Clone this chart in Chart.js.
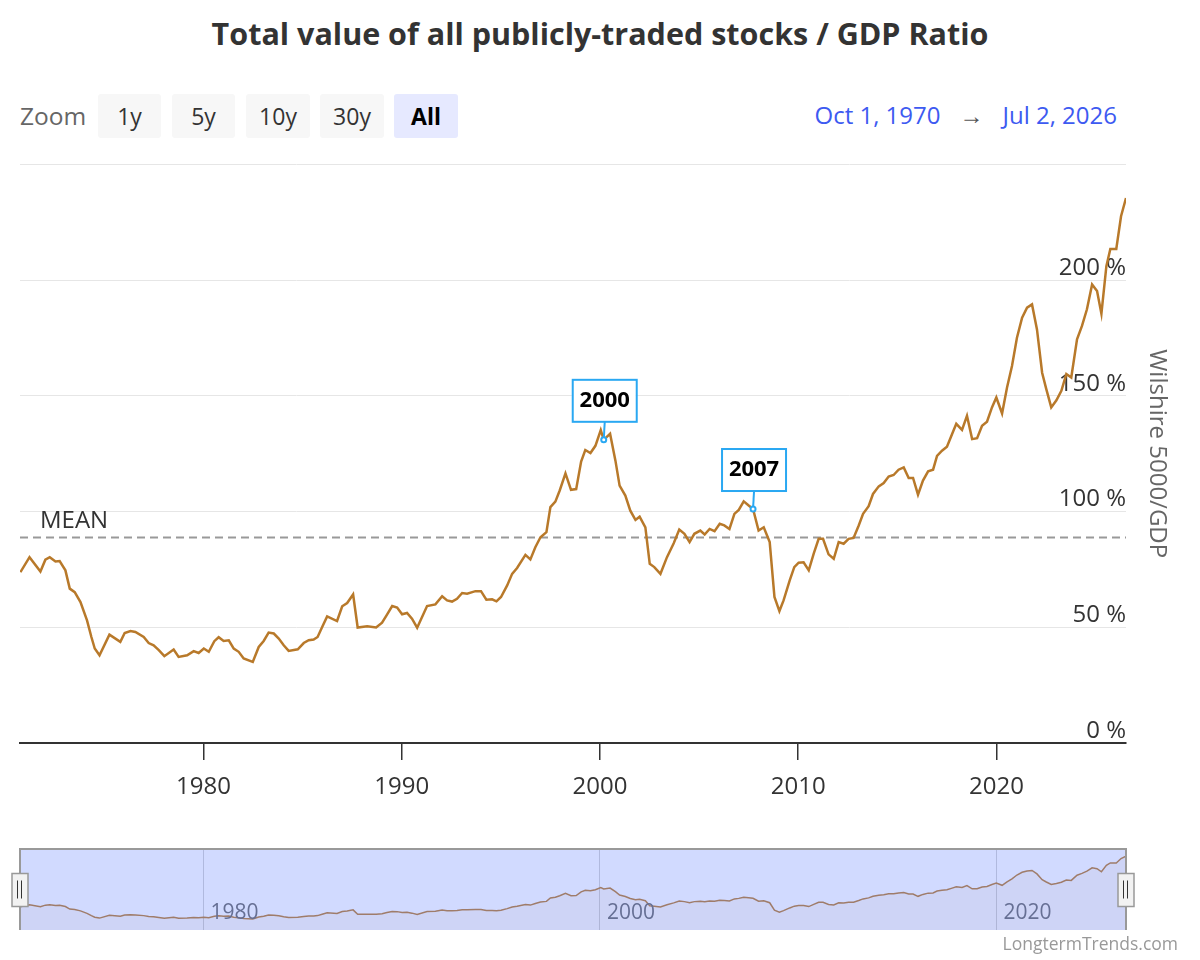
<!DOCTYPE html>
<html>
<head>
<meta charset="utf-8">
<script src="https://cdn.jsdelivr.net/npm/chart.js@4.4.1/dist/chart.umd.min.js"></script>
<style>
  body { margin: 0; width: 1200px; height: 960px; position: relative; background: #fff; overflow: hidden;
         font-family: 'Open Sans', sans-serif; }
  #title { position: absolute; top: 13px; left: 0; width: 1200px; text-align: center; line-height: 40px;
           font-size: 30.5px; font-weight: 700; color: #333; }
  .zlbl { position: absolute; left: 20px; top: 94px; line-height: 44px; font-size: 24.5px; color: #666; }
  .btn { position: absolute; top: 94px; height: 44px; line-height: 44px; text-align: center; font-size: 23px;
         color: #333; background: #f7f7f7; border-radius: 3px; }
  .btn.on { background: #e6e9ff; color: #000; font-weight: 700; }
  #range { position: absolute; right: 83px; top: 93px; line-height: 44px; font-size: 24px; color: #3d5af1; }
  #range .arr { color: #555; margin: 0 19px; }
  #credit { position: absolute; right: 22px; top: 931px; line-height: 24px; font-size: 17.5px; color: #999; }
  .box { position: absolute; left: 0; width: 1200px; }
</style>
</head>
<body>
<div id="title">Total value of all publicly-traded stocks / GDP Ratio</div>
<div class="zlbl">Zoom</div>
<div class="btn" style="left:98px;width:63px">1y</div>
<div class="btn" style="left:172px;width:63px">5y</div>
<div class="btn" style="left:246px;width:64px">10y</div>
<div class="btn" style="left:320px;width:64px">30y</div>
<div class="btn on" style="left:394px;width:64px">All</div>
<div id="range"><span>Oct 1, 1970</span><span class="arr">→</span><span>Jul 2, 2026</span></div>

<div class="box" style="top:150px;height:660px"><canvas id="main"></canvas></div>
<div class="box" style="top:840px;height:100px"><canvas id="nav"></canvas></div>
<div id="credit">LongtermTrends.com</div>

<script>
// Werte (Jahr als Dezimalzahl, Verhaeltnis in %)
const years = [1970.77,1971.23,1971.78,1972.03,1972.25,1972.54,1972.75,1973.04,1973.26,1973.51,
  1973.80,1974.13,1974.35,1974.52,1974.76,1975.26,1975.81,1976.03,1976.32,1976.57,
  1976.99,1977.24,1977.49,1977.75,1978.03,1978.50,1978.75,1979.18,1979.51,1979.76,
  1980.02,1980.27,1980.55,1980.77,1981.02,1981.28,1981.53,1981.78,1982.03,1982.49,
  1982.79,1983.04,1983.29,1983.55,1983.80,1984.05,1984.30,1984.76,1985.06,1985.31,
  1985.56,1985.76,1985.99,1986.24,1986.74,1987.00,1987.25,1987.55,1987.78,1988.26,
  1988.71,1989.01,1989.26,1989.52,1989.77,1990.02,1990.27,1990.52,1990.78,1991.28,
  1991.70,1992.04,1992.29,1992.54,1992.79,1993.05,1993.30,1993.72,1994.00,1994.27,
  1994.56,1994.78,1995.01,1995.32,1995.57,1995.82,1996.24,1996.49,1996.74,1997.00,
  1997.30,1997.50,1997.75,1997.97,1998.26,1998.54,1998.80,1999.05,1999.26,1999.52,
  1999.77,2000.04,2000.19,2000.51,2000.78,2000.99,2001.28,2001.53,2001.79,2002.00,
  2002.29,2002.51,2002.74,2003.05,2003.38,2003.72,2004.00,2004.26,2004.52,2004.76,
  2005.06,2005.28,2005.53,2005.78,2006.04,2006.27,2006.53,2006.78,2007.00,2007.25,
  2007.50,2007.72,2008.00,2008.26,2008.56,2008.80,2009.05,2009.26,2009.57,2009.80,
  2010.02,2010.27,2010.53,2010.78,2011.03,2011.25,2011.53,2011.79,2012.04,2012.29,
  2012.54,2012.79,2013.05,2013.27,2013.55,2013.77,2014.06,2014.31,2014.56,2014.81,
  2015.06,2015.32,2015.57,2015.79,2016.04,2016.29,2016.55,2016.80,2017.00,2017.25,
  2017.50,2017.76,2017.97,2018.26,2018.51,2018.77,2019.02,2019.27,2019.52,2019.77,
  2019.99,2020.28,2020.53,2020.78,2021.03,2021.29,2021.54,2021.79,2022.04,2022.30,
  2022.51,2022.76,2023.02,2023.27,2023.52,2023.77,2024.06,2024.31,2024.56,2024.82,
  2025.07,2025.29,2025.54,2025.74,2026.04,2026.28,2026.53];

const ratio = [73.8,80.3,74.1,79.2,80.3,78.4,78.6,74.6,66.7,65.2,
  60.9,53.0,45.8,40.8,37.9,46.8,43.7,47.5,48.4,48.0,
  45.8,43.2,42.2,40.1,37.5,40.4,37.2,37.9,39.7,38.9,
  40.8,39.4,44.0,45.7,44.1,44.4,40.8,39.4,36.5,35.0,
  41.5,44.1,47.7,47.3,45.1,42.2,39.8,40.5,43.2,44.4,
  44.7,45.8,50.1,54.7,52.7,59.1,60.5,64.2,49.9,50.4,
  49.9,52.0,55.5,59.2,58.5,55.6,56.2,53.7,49.8,59.2,
  59.9,63.4,61.6,61.1,62.3,64.8,64.5,65.6,65.6,61.9,
  62.1,61.2,63.1,68.1,73.1,75.6,81.3,79.3,84.6,88.9,
  91.1,101.9,104.3,109.1,116.5,109.4,109.7,121.6,126.6,125.3,
  128.4,135.2,131.0,133.6,122.0,111.2,106.9,100.4,96.4,97.8,
  93.2,77.4,76.0,73.1,80.3,86.3,92.2,90.4,86.8,90.4,
  91.8,90.1,92.5,91.5,94.7,94.0,92.5,99.0,100.7,104.4,
  102.6,101.1,91.8,93.2,86.8,63.1,57.0,61.6,70.3,76.0,
  77.9,78.1,74.6,81.8,88.2,88.2,81.5,79.6,86.8,86.1,
  88.2,88.6,94.0,99.0,102.3,107.6,110.9,112.3,115.1,115.8,
  118.1,119.1,114.5,114.5,107.3,113.4,117.4,118.1,124.1,126.3,
  128.0,133.5,137.9,135.3,141.4,131.3,131.7,137.1,138.8,145.0,
  149.3,142.4,153.6,162.9,175.1,183.8,188.1,189.5,178.7,160.0,
  152.9,145.0,148.1,152.2,159.4,157.9,174.4,180.2,187.4,198.1,
  195.3,185.5,206.0,213.5,213.5,227.6,235.5];

const meanRatio = 88.8;
const xMin = 1970.75;
const xMax = 2026.53;
const xTicks = [1980, 1990, 2000, 2010, 2020];
const navTicks = [1980, 2000, 2020];
const yTicks = [0, 50, 100, 150, 200, 250];
const noteLabels = ['2000', '2007'];
const noteYears = [2000.19, 2007.72];
const noteValues = [131.0, 101.1];

const lineColor = '#b8792a';
Chart.defaults.font.family = "'Open Sans', sans-serif";

const points = years.map((yr, i) => ({ x: yr, y: ratio[i] }));

// MEAN-Beschriftung und die beiden Hinweisboxen
const notesPlugin = {
  id: 'notes',
  afterDatasetsDraw(chart) {
    const { ctx, chartArea, scales: { x, y } } = chart;
    ctx.save();
    ctx.font = '24px "Open Sans"';
    ctx.fillStyle = '#333';
    ctx.textBaseline = 'middle';
    ctx.fillText('MEAN', chartArea.left + 20, y.getPixelForValue(meanRatio) - 16);

    noteLabels.forEach((label, i) => {
      const px = x.getPixelForValue(noteYears[i]);
      const py = y.getPixelForValue(noteValues[i]);
      const w = 64, h = 42, top = py - 18 - h;
      ctx.strokeStyle = '#2aa8f2';
      ctx.lineWidth = 2;
      ctx.beginPath();
      ctx.moveTo(px, py);
      ctx.lineTo(px + 1, top + h);
      ctx.stroke();
      ctx.fillStyle = '#fff';
      ctx.fillRect(px - w / 2, top, w, h);
      ctx.strokeRect(px - w / 2 + 1, top, w, h);
      ctx.fillStyle = '#000';
      ctx.font = 'bold 22px "Open Sans"';
      ctx.textAlign = 'center';
      ctx.fillText(label, px + 1, top + h / 2);
      ctx.beginPath();
      ctx.arc(px, py, 2.5, 0, Math.PI * 2);
      ctx.fillStyle = '#fff';
      ctx.fill();
      ctx.stroke();
    });
    ctx.restore();
  }
};

new Chart(document.getElementById('main'), {
  type: 'line',
  data: {
    datasets: [
      { data: points, borderColor: lineColor, borderWidth: 2.5, pointRadius: 0, tension: 0, order: 1 },
      { data: [{ x: xMin, y: meanRatio }, { x: xMax, y: meanRatio }], borderColor: '#999',
        borderWidth: 2, borderDash: [8, 5], pointRadius: 0, order: 2 }
    ]
  },
  options: {
    responsive: true,
    maintainAspectRatio: false,
    animation: false,
    layout: { padding: { left: 20, top: 13, right: 27, bottom: 0 } },
    plugins: { legend: { display: false }, tooltip: { enabled: false } },
    scales: {
      x: {
        type: 'linear', min: xMin, max: xMax,
        afterBuildTicks: s => { s.ticks = xTicks.map(v => ({ value: v })); },
        afterFit: s => { s.height = 67; },
        grid: { drawOnChartArea: false, tickLength: 17, color: '#333', lineWidth: 1.5 },
        border: { color: '#333', width: 2 },
        ticks: { callback: v => String(v), color: '#333', font: { size: 24 }, padding: 13, maxRotation: 0 }
      },
      y: {
        position: 'right', min: 0, max: 250,
        afterBuildTicks: s => { s.ticks = yTicks.map(v => ({ value: v })); },
        afterFit: s => { s.width = 47; },
        grid: { color: '#e6e6e6', lineWidth: 1, drawTicks: false },
        border: { display: false },
        ticks: { mirror: true, padding: 0, labelOffset: -12, color: '#333', font: { size: 24 },
                 callback: v => v === 250 ? '' : v + ' %' },
        title: { display: true, text: 'Wilshire 5000/GDP', color: '#666', font: { size: 24 },
                 padding: { top: 2, bottom: 0 } }
      }
    }
  },
  plugins: [notesPlugin]
});

// Navigator unten: Beschriftung, Maske, Rahmen, Griffe
const navPlugin = {
  id: 'navmask',
  afterDatasetsDraw(chart) {
    const { ctx, chartArea: a, scales: { x } } = chart;
    ctx.save();
    ctx.font = '21px "Open Sans"';
    ctx.fillStyle = '#666';
    ctx.textBaseline = 'middle';
    navTicks.forEach(v => ctx.fillText(String(v), x.getPixelForValue(v) + 7, a.bottom - 17));
    ctx.fillStyle = 'rgba(102,133,255,0.3)';
    ctx.fillRect(a.left, a.top, a.right - a.left, a.bottom - a.top);
    ctx.strokeStyle = '#999';
    ctx.lineWidth = 2;
    ctx.beginPath();
    ctx.moveTo(a.left, a.bottom);
    ctx.lineTo(a.left, a.top);
    ctx.lineTo(a.right, a.top);
    ctx.lineTo(a.right, a.bottom);
    ctx.stroke();
    [a.left, a.right].forEach(hx => {
      const hy = (a.top + a.bottom) / 2;
      ctx.fillStyle = '#f2f2f2';
      ctx.strokeStyle = '#999';
      ctx.lineWidth = 1.5;
      ctx.fillRect(hx - 8, hy - 16, 16, 33);
      ctx.strokeRect(hx - 8, hy - 16, 16, 33);
      ctx.strokeStyle = '#333';
      ctx.lineWidth = 1;
      ctx.beginPath();
      ctx.moveTo(hx - 2.5, hy - 9); ctx.lineTo(hx - 2.5, hy + 9);
      ctx.moveTo(hx + 1.5, hy - 9); ctx.lineTo(hx + 1.5, hy + 9);
      ctx.stroke();
    });
    ctx.restore();
  }
};

new Chart(document.getElementById('nav'), {
  type: 'line',
  data: {
    datasets: [{ data: points, borderColor: lineColor, borderWidth: 1.5, pointRadius: 0, tension: 0,
                 fill: 'origin', backgroundColor: 'rgba(184,121,42,0.06)' }]
  },
  options: {
    responsive: true,
    maintainAspectRatio: false,
    animation: false,
    layout: { padding: { left: 20, top: 9, right: 74, bottom: 10 } },
    plugins: { legend: { display: false }, tooltip: { enabled: false } },
    scales: {
      x: {
        type: 'linear', min: xMin, max: xMax,
        afterBuildTicks: s => { s.ticks = navTicks.map(v => ({ value: v })); },
        afterFit: s => { s.height = 0; },
        grid: { color: '#d0d0d0', drawTicks: false },
        border: { display: false },
        ticks: { display: false }
      },
      y: { display: false, min: 0, max: 258 }
    }
  },
  plugins: [navPlugin]
});
</script>
</body>
</html>
